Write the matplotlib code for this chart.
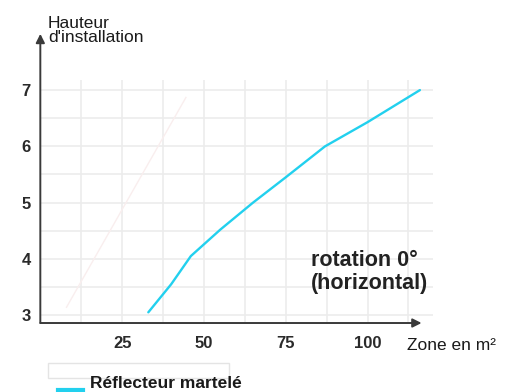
import matplotlib.pyplot as plt
from matplotlib.patches import Rectangle

# surface couverte (m2) -> hauteur d'installation (m)
zone_martele = [33, 40, 46, 55, 65, 75, 87, 100, 116]
hauteur_martele = [3.05, 3.55, 4.05, 4.52, 5.0, 5.45, 6.0, 6.43, 7.0]

# courbe secondaire tres pale
zone_pale = [8, 44.5]
hauteur_pale = [3.14, 6.87]

x_ticks = [25, 50, 75, 100]
y_ticks = [3, 4, 5, 6, 7]

plt.rcParams['font.family'] = ['Liberation Sans', 'DejaVu Sans']

fig = plt.figure(figsize=(5.21, 3.92), dpi=100)
ax = fig.add_axes([0.0774, 0.176, 0.7537, 0.620])
ax.set_xlim(0, 120)
ax.set_ylim(2.86, 7.18)

# grille fine
for gx in [12.5 * i for i in range(1, 10)]:
    ax.axvline(gx, color='#ececec', lw=1.2, zorder=0)
for gy in [3 + 0.5 * i for i in range(0, 9)]:
    ax.axhline(gy, color='#ececec', lw=1.2, zorder=0)

ax.plot(zone_pale, hauteur_pale, color='#f9eeee', lw=1.0, zorder=1)
ax.plot(zone_martele, hauteur_martele, color='#22d0ee', lw=1.7,
        solid_capstyle='round', solid_joinstyle='round', zorder=3)

for s in ax.spines.values():
    s.set_visible(False)

# axes avec fleches
ax.annotate('', xy=(116.5, 2.86), xytext=(0, 2.86), annotation_clip=False,
            arrowprops=dict(arrowstyle='-|>', color='#3a3a3a', lw=1.4,
                            mutation_scale=13, shrinkA=0, shrinkB=0))
ax.annotate('', xy=(0, 8.0), xytext=(0, 2.86), annotation_clip=False,
            arrowprops=dict(arrowstyle='-|>', color='#3a3a3a', lw=1.4,
                            mutation_scale=13, shrinkA=0, shrinkB=0))

ax.set_xticks(x_ticks)
ax.set_yticks(y_ticks)
ax.tick_params(length=0)
ax.tick_params(axis='x', pad=9)
ax.tick_params(axis='y', pad=7)
for lab in ax.get_xticklabels() + ax.get_yticklabels():
    lab.set_fontweight('bold')
    lab.set_fontsize(12)
    lab.set_color('#2a2a2a')

fig.text(48 / 521, 1 - 16 / 392, "Hauteur\nd'installation", fontsize=12.5,
         color='#1a1a1a', ha='left', va='top', linespacing=0.95)
fig.text(407 / 521, 1 - 345 / 392, 'Zone en m²', fontsize=12.5,
         color='#1a1a1a', ha='left', va='center')
fig.text(311 / 521, 1 - 272 / 392, 'rotation 0°\n(horizontal)', fontsize=15.5,
         fontweight='bold', color='#222222', ha='left', va='center',
         linespacing=1.1)

# legende
fig.patches.append(Rectangle((48 / 521, 1 - 378 / 392), 181 / 521, 15 / 392,
                             transform=fig.transFigure, facecolor='white',
                             edgecolor='#e4e4e4', lw=1))
fig.lines.append(plt.Line2D([58 / 521, 83 / 521], [1 - 390 / 392, 1 - 390 / 392],
                            transform=fig.transFigure, color='#22d0ee', lw=3))
fig.text(90 / 521, 1 - 384 / 392, 'Réflecteur martelé', fontsize=12.5,
         fontweight='bold', color='#1a1a1a', ha='left', va='center')

fig.savefig('out.png', dpi=100)
